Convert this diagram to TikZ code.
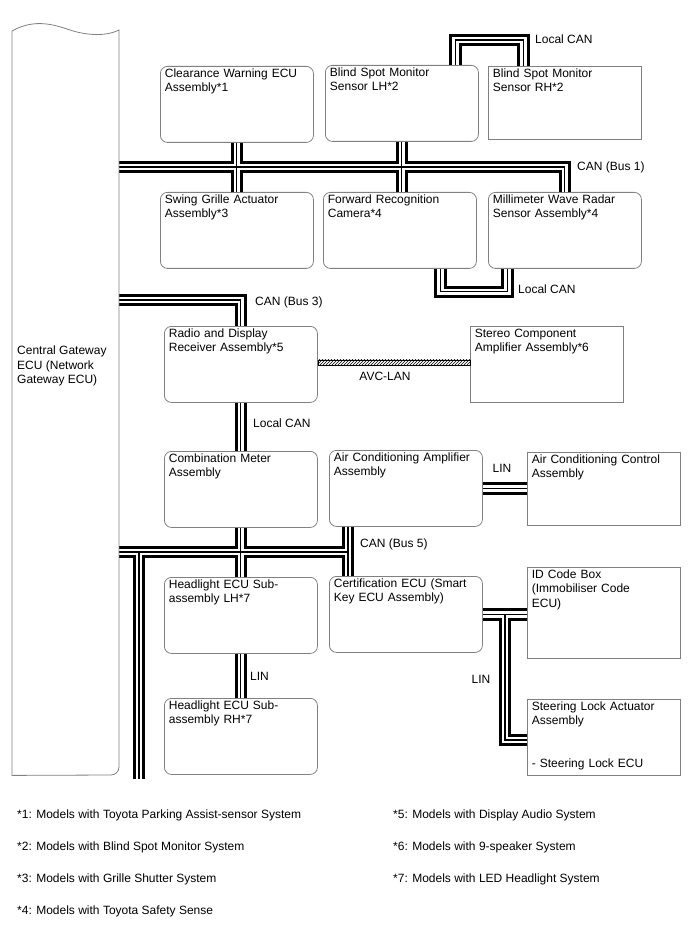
\documentclass[tikz,border=0pt]{standalone}
\usepackage{fontspec}
\setmainfont{Liberation Sans}
\usetikzlibrary{positioning,patterns}
\definecolor{boxgray}{HTML}{808080}
\definecolor{wireink}{HTML}{000000}

\begin{document}
\begin{tikzpicture}[x=1pt, y=-1pt,
  every node/.style={font=\fontsize{12}{14.3}\selectfont, text=black},
  ecu/.style={draw=boxgray, line width=0.8pt, rounded corners=7pt, anchor=north west, align=left,
    text width=144pt, inner xsep=4.5pt, inner ysep=2pt, text height=9pt, text depth=63pt},
  unit/.style={ecu, sharp corners},
  buslabel/.style={anchor=west, inner sep=0pt},
  note/.style={anchor=west, inner sep=0pt},
  wire/.style={wireink, line width=12.5pt, line join=miter},
  wiregap/.style={white, line width=6.5pt, line join=miter},
  wirecore/.style={wireink, line width=1.1pt, line join=miter},
  avc/.style={draw=wireink, line width=0.6pt, pattern=north east lines, pattern color=wireink}]
\useasboundingbox (0,0) rectangle (688,949);
\node[minimum width=107pt, minimum height=745pt, inner sep=0pt, anchor=north west] (gw) at (12,30) {};
\node[anchor=west, align=left, inner sep=0pt] (gwname) at (17,366) {Central Gateway\\ECU (Network\\Gateway ECU)};

\node[ecu] (clw) at (160,66) {Clearance Warning ECU\\Assembly*1};
\node[ecu] (bsmlh) at (325,65) {Blind Spot Monitor\\Sensor LH*2};
\node[unit, text depth=60pt] (bsmrh) at (488,66) {Blind Spot Monitor\\Sensor RH*2};
\node[ecu] (sga) at (160,192) {Swing Grille Actuator\\Assembly*3};
\node[ecu] (frc) at (323,192) {Forward Recognition\\Camera*4};
\node[ecu] (mwr) at (488,192) {Millimeter Wave Radar\\Sensor Assembly*4};
\node[ecu] (radio) at (164,326) {Radio and Display\\Receiver Assembly*5};
\node[unit] (stereo) at (470,326) {Stereo Component\\Amplifier Assembly*6};
\node[ecu] (cmb) at (164,451) {Combination Meter\\Assembly};
\node[ecu] (acamp) at (329,450) {Air Conditioning Amplifier\\Assembly};
\node[unit, text depth=60pt] (acctl) at (527,452) {Air Conditioning Control\\Assembly};
\node[ecu] (hllh) at (164,577) {Headlight ECU Sub-\\assembly LH*7};
\node[ecu] (cert) at (329,576) {Certification ECU (Smart\\Key ECU Assembly)};
\node[unit, text depth=78pt] (idbox) at (527,567) {ID Code Box\\(Immobiliser Code\\ECU)};
\node[ecu] (hlrh) at (164,698) {Headlight ECU Sub-\\assembly RH*7};
\node[unit] (stl) at (527,699) {Steering Lock Actuator\\Assembly\\[28.6pt]- Steering Lock ECU};

\coordinate (bus1) at (0,167);
\coordinate (bus3) at (0,300);
\coordinate (bus5) at (348,552);
\coordinate (trunk) at (139,779);
\coordinate (lin3) at (505,740);

\foreach \layer in {wire,wiregap,wirecore}{
  \draw[\layer] (gw.east |- bus1) -| (mwr.north);
  \draw[\layer] (clw.south) -- (clw.south |- sga.north);
  \draw[\layer] (bsmlh.south) -- (bsmlh.south |- frc.north);
  \draw[\layer] ([xshift=53.5pt]bsmlh.north) -- ++(0,-25) -| ([xshift=-41.5pt]bsmrh.north);
  \draw[\layer] ([xshift=40.5pt]frc.south) -- ++(0,23) -| ([xshift=-57.5pt]mwr.south);
  \draw[\layer] (gw.east |- bus3) -| (radio.north);
  \draw[\layer] (radio.south) -- (cmb.north);
  \draw[\layer] (acamp.east) -- (acamp.east -| acctl.west);
  \draw[\layer] (gw.east |- bus5) -- (bus5);
  \draw[\layer] (acamp.south west -| bus5) -- (cert.north west -| bus5);
  \draw[\layer] (cmb.south) -- (hllh.north);
  \draw[\layer] (trunk |- bus5) -- (trunk);
  \draw[\layer] (hllh.south) -- (hlrh.north);
  \draw[\layer] (cert.east) -- (cert.east -| idbox.west);
  \draw[\layer] (lin3 |- cert.east) -- (lin3) -- (lin3 -| stl.west);
}
\draw[avc] ([yshift=4.5pt]radio.east) rectangle ([yshift=-0.5pt]radio.east -| stereo.west);

\draw[boxgray, line width=0.8pt] (gw.south west) -- (12,31) .. controls (35,18) and (55,25) .. (70,30)
  .. controls (85,35) and (105,37) .. (119,30) -- (119,767) .. controls (119,771.4) and (115.4,775) .. (111,775) -- cycle;

\node[buslabel] (lcan1) at (535,39) {Local CAN};
\node[buslabel] (bus1lbl) at (577,167) {CAN (Bus 1)};
\node[buslabel] (lcan2) at (518,289) {Local CAN};
\node[buslabel] (bus3lbl) at (255,302) {CAN (Bus 3)};
\node[inner sep=0pt] (avclbl) at (385,376) {AVC-LAN};
\node[buslabel] (lcan3) at (253,423) {Local CAN};
\node[inner sep=0pt] (lin1lbl) at (502,468) {LIN};
\node[buslabel] (bus5lbl) at (360,544) {CAN (Bus 5)};
\node[buslabel] (lin2lbl) at (250,676) {LIN};
\node[inner sep=0pt] (lin3lbl) at (481,679) {LIN};

\foreach \y/\txt [count=\i] in {815/{*1: Models with Toyota Parking Assist-sensor System},
    847/{*2: Models with Blind Spot Monitor System}, 879/{*3: Models with Grille Shutter System},
    911/{*4: Models with Toyota Safety Sense}}
  \node[note] (fn\i) at (17,\y) {\txt};
\foreach \y/\txt [count=\i from 5] in {815/{*5: Models with Display Audio System},
    847/{*6: Models with 9-speaker System}, 879/{*7: Models with LED Headlight System}}
  \node[note] (fn\i) at (393,\y) {\txt};
\end{tikzpicture}
\end{document}
